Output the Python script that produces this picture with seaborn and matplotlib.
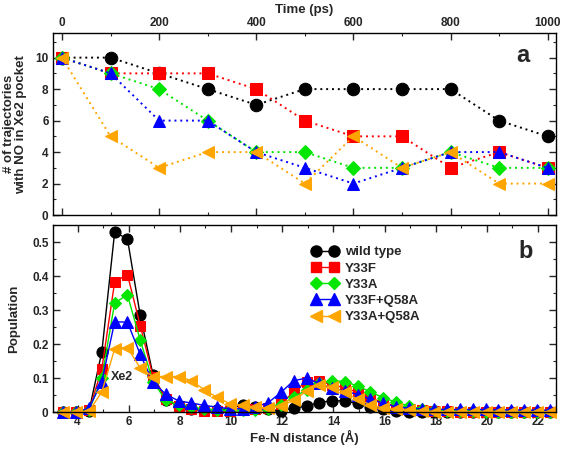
import matplotlib
matplotlib.use("Agg")
import matplotlib.pyplot as plt
import seaborn as sns
import pandas as pd
from matplotlib.lines import Line2D
from matplotlib.ticker import MultipleLocator

sns.set_theme(style="ticks")
plt.rcParams['font.family'] = ['Liberation Sans', 'DejaVu Sans']
plt.rcParams['font.weight'] = 'bold'

# ---- data: panel a ----
time_ps = [0, 100, 200, 300, 400, 500, 600, 700, 800, 900, 1000]
traj_wt = [10, 10, 9, 8, 7, 8, 8, 8, 8, 6, 5]
traj_y33f = [10, 9, 9, 9, 8, 6, 5, 5, 3, 4, 3]
traj_y33a = [10, 9, 8, 6, 4, 4, 3, 3, 4, 3, 3]
traj_y33f_q58a = [10, 9, 6, 6, 4, 3, 2, 3, 4, 4, 3]
traj_y33a_q58a = [10, 5, 3, 4, 4, 2, 5, 3, 4, 2, 2]

# ---- data: panel b ----
distance = [3.45, 3.95, 4.45, 4.95, 5.45, 5.95, 6.45, 6.95, 7.45, 7.95,
            8.45, 8.95, 9.45, 9.95, 10.45, 10.95, 11.45, 11.95, 12.45, 12.95,
            13.45, 13.95, 14.45, 14.95, 15.45, 15.95, 16.45, 16.95, 17.45, 17.95,
            18.45, 18.95, 19.45, 19.95, 20.45, 20.95, 21.45, 21.95, 22.45]
pop_wt = [0, 0, 0.004, 0.178, 0.53, 0.51, 0.285, 0.11, 0.035, 0.018,
          0.01, 0.006, 0.006, 0.01, 0.022, 0.015, 0.008, 0.004, 0.012, 0.018,
          0.028, 0.034, 0.033, 0.026, 0.016, 0.008, 0.004, 0.002, 0.001, 0,
          0, 0, 0, 0, 0, 0, 0, 0, 0]
pop_y33f = [0, 0, 0.005, 0.128, 0.383, 0.405, 0.255, 0.105, 0.04, 0.018,
            0.01, 0.004, 0.003, 0.003, 0.005, 0.008, 0.012, 0.025, 0.06, 0.09,
            0.092, 0.08, 0.072, 0.058, 0.042, 0.028, 0.018, 0.01, 0.006, 0.004,
            0.003, 0.002, 0.002, 0.001, 0.001, 0.001, 0, 0, 0]
pop_y33a = [0, 0, 0.006, 0.10, 0.322, 0.345, 0.212, 0.09, 0.035, 0.02,
            0.015, 0.01, 0.006, 0.005, 0.005, 0.006, 0.01, 0.022, 0.045, 0.065,
            0.085, 0.093, 0.09, 0.077, 0.06, 0.042, 0.03, 0.018, 0.01, 0.006,
            0.004, 0.003, 0.003, 0.002, 0.002, 0.002, 0.002, 0.002, 0.002]
pop_y33f_q58a = [0, 0, 0.012, 0.09, 0.266, 0.265, 0.17, 0.088, 0.053, 0.033,
                 0.027, 0.02, 0.015, 0.01, 0.01, 0.015, 0.028, 0.058, 0.093, 0.10,
                 0.085, 0.07, 0.062, 0.052, 0.038, 0.026, 0.016, 0.012, 0.01, 0.009,
                 0.008, 0.008, 0.008, 0.008, 0.007, 0.007, 0.006, 0.006, 0.006]
pop_y33a_q58a = [0, 0, 0.003, 0.06, 0.186, 0.19, 0.13, 0.105, 0.105, 0.105,
                 0.093, 0.066, 0.044, 0.025, 0.02, 0.015, 0.012, 0.018, 0.035, 0.062,
                 0.08, 0.075, 0.058, 0.038, 0.022, 0.012, 0.008, 0.005, 0.003, 0.002,
                 0.002, 0.002, 0.001, 0.001, 0.001, 0.001, 0.001, 0.001, 0.001]

labels = ["wild type", "Y33F", "Y33A", "Y33F+Q58A", "Y33A+Q58A"]
colors = ["#000000", "#ff0000", "#00e600", "#0000ff", "#ffa500"]
markers = ["o", "s", "D", "^", "<"]
msizes_a = [9, 8, 7, 8.5, 8.5]
msizes_b = [8, 7.5, 6.5, 8, 8]

traj = [traj_wt, traj_y33f, traj_y33a, traj_y33f_q58a, traj_y33a_q58a]
pops = [pop_wt, pop_y33f, pop_y33a, pop_y33f_q58a, pop_y33a_q58a]

TICK_FS = 8.5
LABEL_FS = 9.5

fig = plt.figure(figsize=(5.61, 4.49), dpi=100)
ax1 = fig.add_axes([0.094, 0.521, 0.897, 0.405])
ax2 = fig.add_axes([0.094, 0.082, 0.897, 0.417])

# Panel a
for lab, col, mk, ms, ys in zip(labels, colors, markers, msizes_a, traj):
    df = pd.DataFrame({"t": time_ps, "n": ys})
    sns.lineplot(data=df, x="t", y="n", ax=ax1, color=col, marker=mk,
                 markersize=ms, markeredgecolor=col, linestyle=(0, (1, 2)),
                 linewidth=1.4, legend=False, clip_on=False)

ax1.set_xlim(-19, 1017)
ax1.set_ylim(0, 11.55)
ax1.xaxis.set_major_locator(MultipleLocator(200))
ax1.xaxis.set_minor_locator(MultipleLocator(100))
ax1.yaxis.set_major_locator(MultipleLocator(2))
ax1.yaxis.set_minor_locator(MultipleLocator(1))
ax1.tick_params(axis='x', which='both', top=True, bottom=True,
                labeltop=True, labelbottom=False, direction='in')
ax1.tick_params(axis='y', which='both', left=True, right=True, direction='in')
ax1.xaxis.set_label_position('top')
ax1.set_xlabel("Time (ps)", fontsize=LABEL_FS, fontweight='bold')
ax1.xaxis.set_label_coords(0.5, 1.11)
ax1.set_ylabel("# of trajectories\nwith NO in Xe2 pocket", fontsize=LABEL_FS,
               fontweight='bold', linespacing=1.0)
ax1.yaxis.set_label_coords(-0.051, 0.5)
ax1.text(0.934, 0.875, "a", transform=ax1.transAxes, fontsize=17,
         fontweight='bold', ha='center', va='center')

# Panel b
for lab, col, mk, ms, ys in zip(labels, colors, markers, msizes_b, pops):
    df = pd.DataFrame({"d": distance, "p": ys})
    sns.lineplot(data=df, x="d", y="p", ax=ax2, color=col, marker=mk,
                 markersize=ms, markeredgecolor=col, linewidth=1.0,
                 legend=False, clip_on=False)

ax2.set_xlim(3.03, 22.7)
ax2.set_ylim(0, 0.551)
ax2.xaxis.set_major_locator(MultipleLocator(2))
ax2.xaxis.set_minor_locator(MultipleLocator(1))
ax2.yaxis.set_minor_locator(MultipleLocator(0.05))
ax2.set_yticks([0, 0.1, 0.2, 0.3, 0.4, 0.5])
ax2.set_yticklabels(["0", "0.1", "0.2", "0.3", "0.4", "0.5"])
ax2.tick_params(axis='both', which='both', top=True, right=True, direction='in')
ax2.set_xlabel("Fe-N distance (Å)", fontsize=LABEL_FS, fontweight='bold')
ax2.xaxis.set_label_coords(0.5, -0.095)
ax2.set_ylabel("Population", fontsize=LABEL_FS, fontweight='bold')
ax2.yaxis.set_label_coords(-0.064, 0.5)
ax2.text(0.94, 0.856, "b", transform=ax2.transAxes, fontsize=17,
         fontweight='bold', ha='center', va='center')
ax2.text(5.75, 0.105, "Xe2", fontsize=TICK_FS + 0.5, fontweight='bold',
         ha='center', va='center')

handles = [Line2D([0], [0], color=c, marker=m, markersize=ms, linewidth=1.0,
                  markeredgecolor=c)
           for c, m, ms in zip(colors, markers, msizes_b)]
leg = ax2.legend(handles, labels, loc='upper left',
                 bbox_to_anchor=(0.535, 0.478), bbox_transform=fig.transFigure,
                 frameon=False, numpoints=2, handlelength=2.0, handletextpad=0.5,
                 labelspacing=0.3, prop={'weight': 'bold', 'size': LABEL_FS})

for ax in (ax1, ax2):
    for sp in ax.spines.values():
        sp.set_linewidth(1.0)
        sp.set_color('black')
    ax.tick_params(which='major', length=5, width=1.0, labelsize=TICK_FS, pad=3)
    ax.tick_params(which='minor', length=2.5, width=0.8)
    for t in ax.get_xticklabels() + ax.get_yticklabels():
        t.set_fontweight('bold')

fig.savefig("out.png", dpi=100)
